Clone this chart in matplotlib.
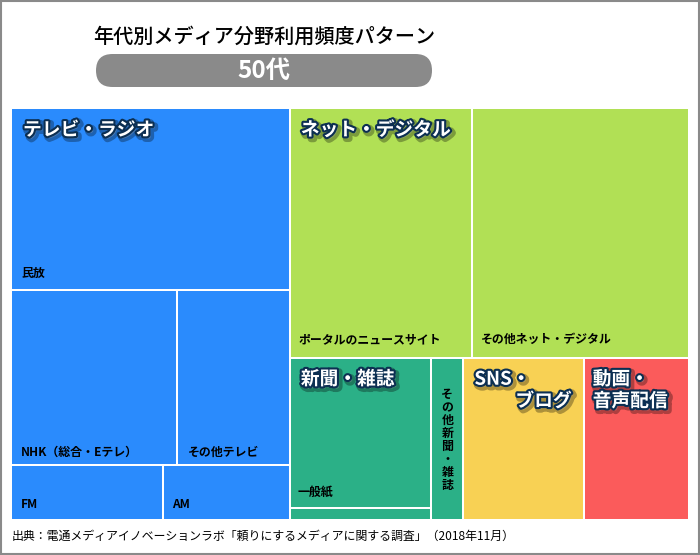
import matplotlib
matplotlib.use('Agg')
import matplotlib.pyplot as plt
import matplotlib.patheffects as pe
from matplotlib.patches import Rectangle, FancyBboxPatch

plt.rcParams['font.family'] = ['Noto Sans CJK JP', 'DejaVu Sans']

# shares of the tree map (% of area)
tv_names = ['民放', 'NHK（総合・Eテレ）', 'その他テレビ', 'FM', 'AM']
tv_values = [18.15, 10.42, 7.03, 3.00, 2.52]
net_names = ['ポータルのニュースサイト', 'その他ネット・デジタル']
net_values = [16.35, 19.41]
paper_names = ['一般紙', '', 'その他新聞・雑誌']
paper_values = [7.58, 0.61, 1.86]
sns_value = 6.97
video_value = 6.10

group_names = ['テレビ・ラジオ', 'ネット・デジタル', '新聞・雑誌', 'SNS・\nブログ', '動画・\n音声配信']

title = '年代別メディア分野利用頻度パターン'
subtitle = '50代'
source = '出典：電通メディアイノベーションラボ「頼りにするメディアに関する調査」（2018年11月）'

c_tv = '#2a8bfd'
c_net = '#b1e055'
c_paper = '#2bb087'
c_sns = '#f8d154'
c_video = '#fb5b5b'


def split(rect, sizes, horizontal):
    x, y, w, h = rect
    total = sum(sizes)
    out = []
    top = y + h
    for s in sizes:
        if horizontal:
            dw = w * s / total
            out.append((x, y, dw, h))
            x += dw
        else:
            dh = h * s / total
            out.append((x, top - dh, w, dh))
            top -= dh
    return out


fig = plt.figure(figsize=(7, 5.55), dpi=100)

# page decoration in pixel coordinates
deco = fig.add_axes([0, 0, 1, 1])
deco.set_xlim(0, 700)
deco.set_ylim(555, 0)
deco.axis('off')
deco.add_patch(Rectangle((1, 1), 698, 553, fill=False, ec='#8a8a8a', lw=1.5))
deco.text(264, 37, title, ha='center', va='center', fontsize=14.5,
          fontweight='medium', color='black')
deco.add_patch(FancyBboxPatch((96, 54), 336, 33,
                              boxstyle='round,pad=0,rounding_size=16.5',
                              fc='#8a8a8a', ec='none'))
deco.text(264, 71, subtitle, ha='center', va='center', fontsize=17.5,
          fontweight='bold', color='white')
deco.text(12, 536, source, ha='left', va='center', fontsize=8.6, color='black')

# tree map
ax = fig.add_axes([11 / 700, 35 / 555, 678 / 700, 412 / 555])
ax.set_xlim(0, 1)
ax.set_ylim(0, 1)
ax.axis('off')

tv_total = sum(tv_values)
net_total = sum(net_values)
paper_total = sum(paper_values)
rest_total = net_total + paper_total + sns_value + video_value

r_tv, r_rest = split((0, 0, 1, 1), [tv_total, rest_total], True)
tv_rows = split(r_tv, [tv_values[0], tv_values[1] + tv_values[2],
                       tv_values[3] + tv_values[4]], False)
tv_rects = [tv_rows[0]] + split(tv_rows[1], tv_values[1:3], True) \
    + split(tv_rows[2], tv_values[3:5], True)

r_net, r_bottom = split(r_rest, [net_total, paper_total + sns_value + video_value], False)
net_rects = split(r_net, net_values, True)
r_paper, r_sns, r_video = split(r_bottom, [paper_total, sns_value, video_value], True)
p_left, p_right = split(r_paper, [paper_values[0] + paper_values[1], paper_values[2]], True)
paper_rects = split(p_left, paper_values[0:2], False) + [p_right]

gap = 1.45


def box(r, color):
    ax.add_patch(Rectangle((r[0], r[1]), r[2], r[3], fc=color, ec='white', lw=gap))


def small_label(r, name, dx, dy):
    ax.annotate(name, xy=(r[0], r[1]), xytext=(dx, dy), textcoords='offset pixels',
                ha='left', va='center', fontsize=8.6, fontweight='bold', color='black')


for r in tv_rects:
    box(r, c_tv)
for r in net_rects:
    box(r, c_net)
for r in paper_rects:
    box(r, c_paper)
box(r_sns, c_sns)
box(r_video, c_video)

tv_dy = [16, 12, 12, 15, 15]
for r, name, dy in zip(tv_rects, tv_names, tv_dy):
    small_label(r, name, 10, dy)
for r, name in zip(net_rects, net_names):
    small_label(r, name, 9, 19)
small_label(paper_rects[0], paper_names[0], 8, 16)

# vertical label in the narrow column
vr = paper_rects[2]
ax.annotate('\n'.join(paper_names[2]), xy=(vr[0] + vr[2] / 2, vr[1] + vr[3]),
            xytext=(0, -82), textcoords='offset pixels', ha='center', va='center',
            fontsize=8.6, fontweight='bold', color='black', linespacing=1.0)

outline = [pe.Stroke(linewidth=5, foreground='black', alpha=0.3, offset=(1.6, -1.6)),
           pe.Stroke(linewidth=3, foreground='#0c2f52'), pe.Normal()]


def group_label(r, name, dx, dy, ha='left'):
    x0 = r[0] if ha == 'left' else r[0] + r[2]
    ax.annotate(name, xy=(x0, r[1] + r[3]), xytext=(dx, dy), textcoords='offset pixels',
                ha=ha, va='center', fontsize=13.5, fontweight='bold', color='white',
                path_effects=outline)


group_label(r_tv, group_names[0], 12, -22)
group_label(r_net, group_names[1], 11, -22)
group_label(r_paper, group_names[2], 11, -21)
sns_top, sns_bottom = group_names[3].split('\n')
group_label(r_sns, sns_top, 11, -21)
group_label(r_sns, sns_bottom, -12, -43, ha='right')
vid_top, vid_bottom = group_names[4].split('\n')
group_label(r_video, vid_top, 9, -21)
group_label(r_video, vid_bottom, 9, -43)

fig.savefig('out.png', dpi=100)
